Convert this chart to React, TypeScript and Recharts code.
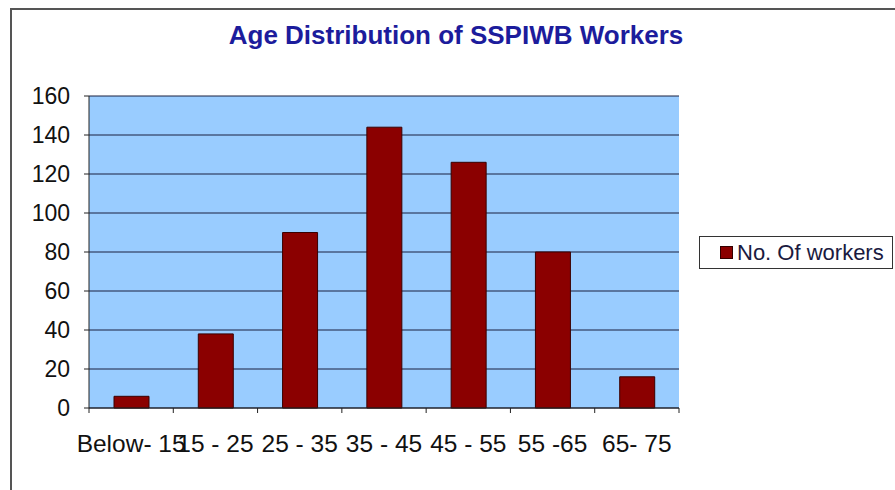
import React from 'react';
import {
  BarChart,
  Bar,
  XAxis,
  YAxis,
  CartesianGrid,
} from 'recharts';

const ageGroups = ['Below- 15', '15 - 25', '25 - 35', '35 - 45', '45 - 55', '55 -65', '65- 75'];
const workerCounts = [6, 38, 90, 144, 126, 80, 16];
const yTicks = [0, 20, 40, 60, 80, 100, 120, 140, 160];
const seriesName = 'No. Of workers';

const data = ageGroups.map((group, i) => ({ group, workers: workerCounts[i] }));

const PLOT_LEFT = 89;
const PLOT_RIGHT = 679;
const HALF_BAND = (PLOT_RIGHT - PLOT_LEFT) / ageGroups.length / 2;
const FONT = '"Liberation Sans", Arial, sans-serif';

// category labels sit in the middle, tick marks sit on the band edges
const XTick = (props: any) => {
  const { x, y, payload, index } = props;
  const axisY = y - 8;
  const last = index === ageGroups.length - 1;
  return (
    <g>
      <line x1={x - HALF_BAND} y1={axisY} x2={x - HALF_BAND} y2={axisY + 5} stroke="#222" />
      {last && <line x1={x + HALF_BAND} y1={axisY} x2={x + HALF_BAND} y2={axisY + 5} stroke="#222" />}
      <text x={x} y={y} dy={36} textAnchor="middle" fill="#111" fontSize={24.5} fontFamily={FONT}>
        {payload.value}
      </text>
    </g>
  );
};

const LegendBox = () => (
  <div
    style={{
      position: 'absolute',
      left: 699,
      top: 236,
      width: 194,
      height: 33,
      border: '1px solid #333',
      background: '#fff',
      display: 'flex',
      alignItems: 'center',
      boxSizing: 'border-box',
      paddingLeft: 20,
      fontFamily: FONT,
      fontSize: 22,
      color: '#1a1a40',
    }}
  >
    <span style={{ width: 11, height: 11, background: '#8B0000', border: '1px solid #300', marginRight: 4 }} />
    {seriesName}
  </div>
);

export default function App() {
  return (
    <div style={{ position: 'absolute', left: 0, top: 0, width: 895, height: 490, background: '#fff', overflow: 'hidden' }}>
      <div
        style={{
          position: 'absolute',
          left: 10,
          top: 8,
          width: 900,
          height: 500,
          borderLeft: '2px solid #555',
          borderTop: '2px solid #555',
        }}
      />
      <div
        style={{
          position: 'absolute',
          left: 0,
          top: 20,
          width: 912,
          textAlign: 'center',
          fontFamily: FONT,
          fontWeight: 'bold',
          fontSize: 26,
          color: '#1c1c9c',
        }}
      >
        Age Distribution of SSPIWB Workers
      </div>
      <BarChart
        width={895}
        height={490}
        data={data}
        margin={{ top: 96, right: 895 - PLOT_RIGHT, bottom: 32, left: PLOT_LEFT - 80 }}
        barSize={35}
        style={{ position: 'absolute', left: 0, top: 0 }}
      >
        <CartesianGrid vertical={false} fill="#99CCFF" stroke="#1a2040" strokeOpacity={1} />
        <XAxis
          dataKey="group"
          height={50}
          interval={0}
          tickLine={false}
          axisLine={{ stroke: '#222' }}
          tick={<XTick />}
        />
        <YAxis
          width={80}
          domain={[0, 160]}
          ticks={yTicks}
          tickSize={5}
          tickMargin={14}
          axisLine={{ stroke: '#222' }}
          tickLine={{ stroke: '#222' }}
          tick={{ fill: '#111', fontSize: 23, fontFamily: FONT }}
        />
        <YAxis
          yAxisId="frame"
          orientation="right"
          width={0}
          domain={[0, 160]}
          ticks={yTicks}
          tick={false}
          tickLine={false}
          axisLine={{ stroke: '#888' }}
        />
        <Bar
          dataKey="workers"
          name={seriesName}
          fill="#8B0000"
          stroke="#3a0000"
          strokeWidth={1}
          isAnimationActive={false}
        />
      </BarChart>
      <LegendBox />
    </div>
  );
}
